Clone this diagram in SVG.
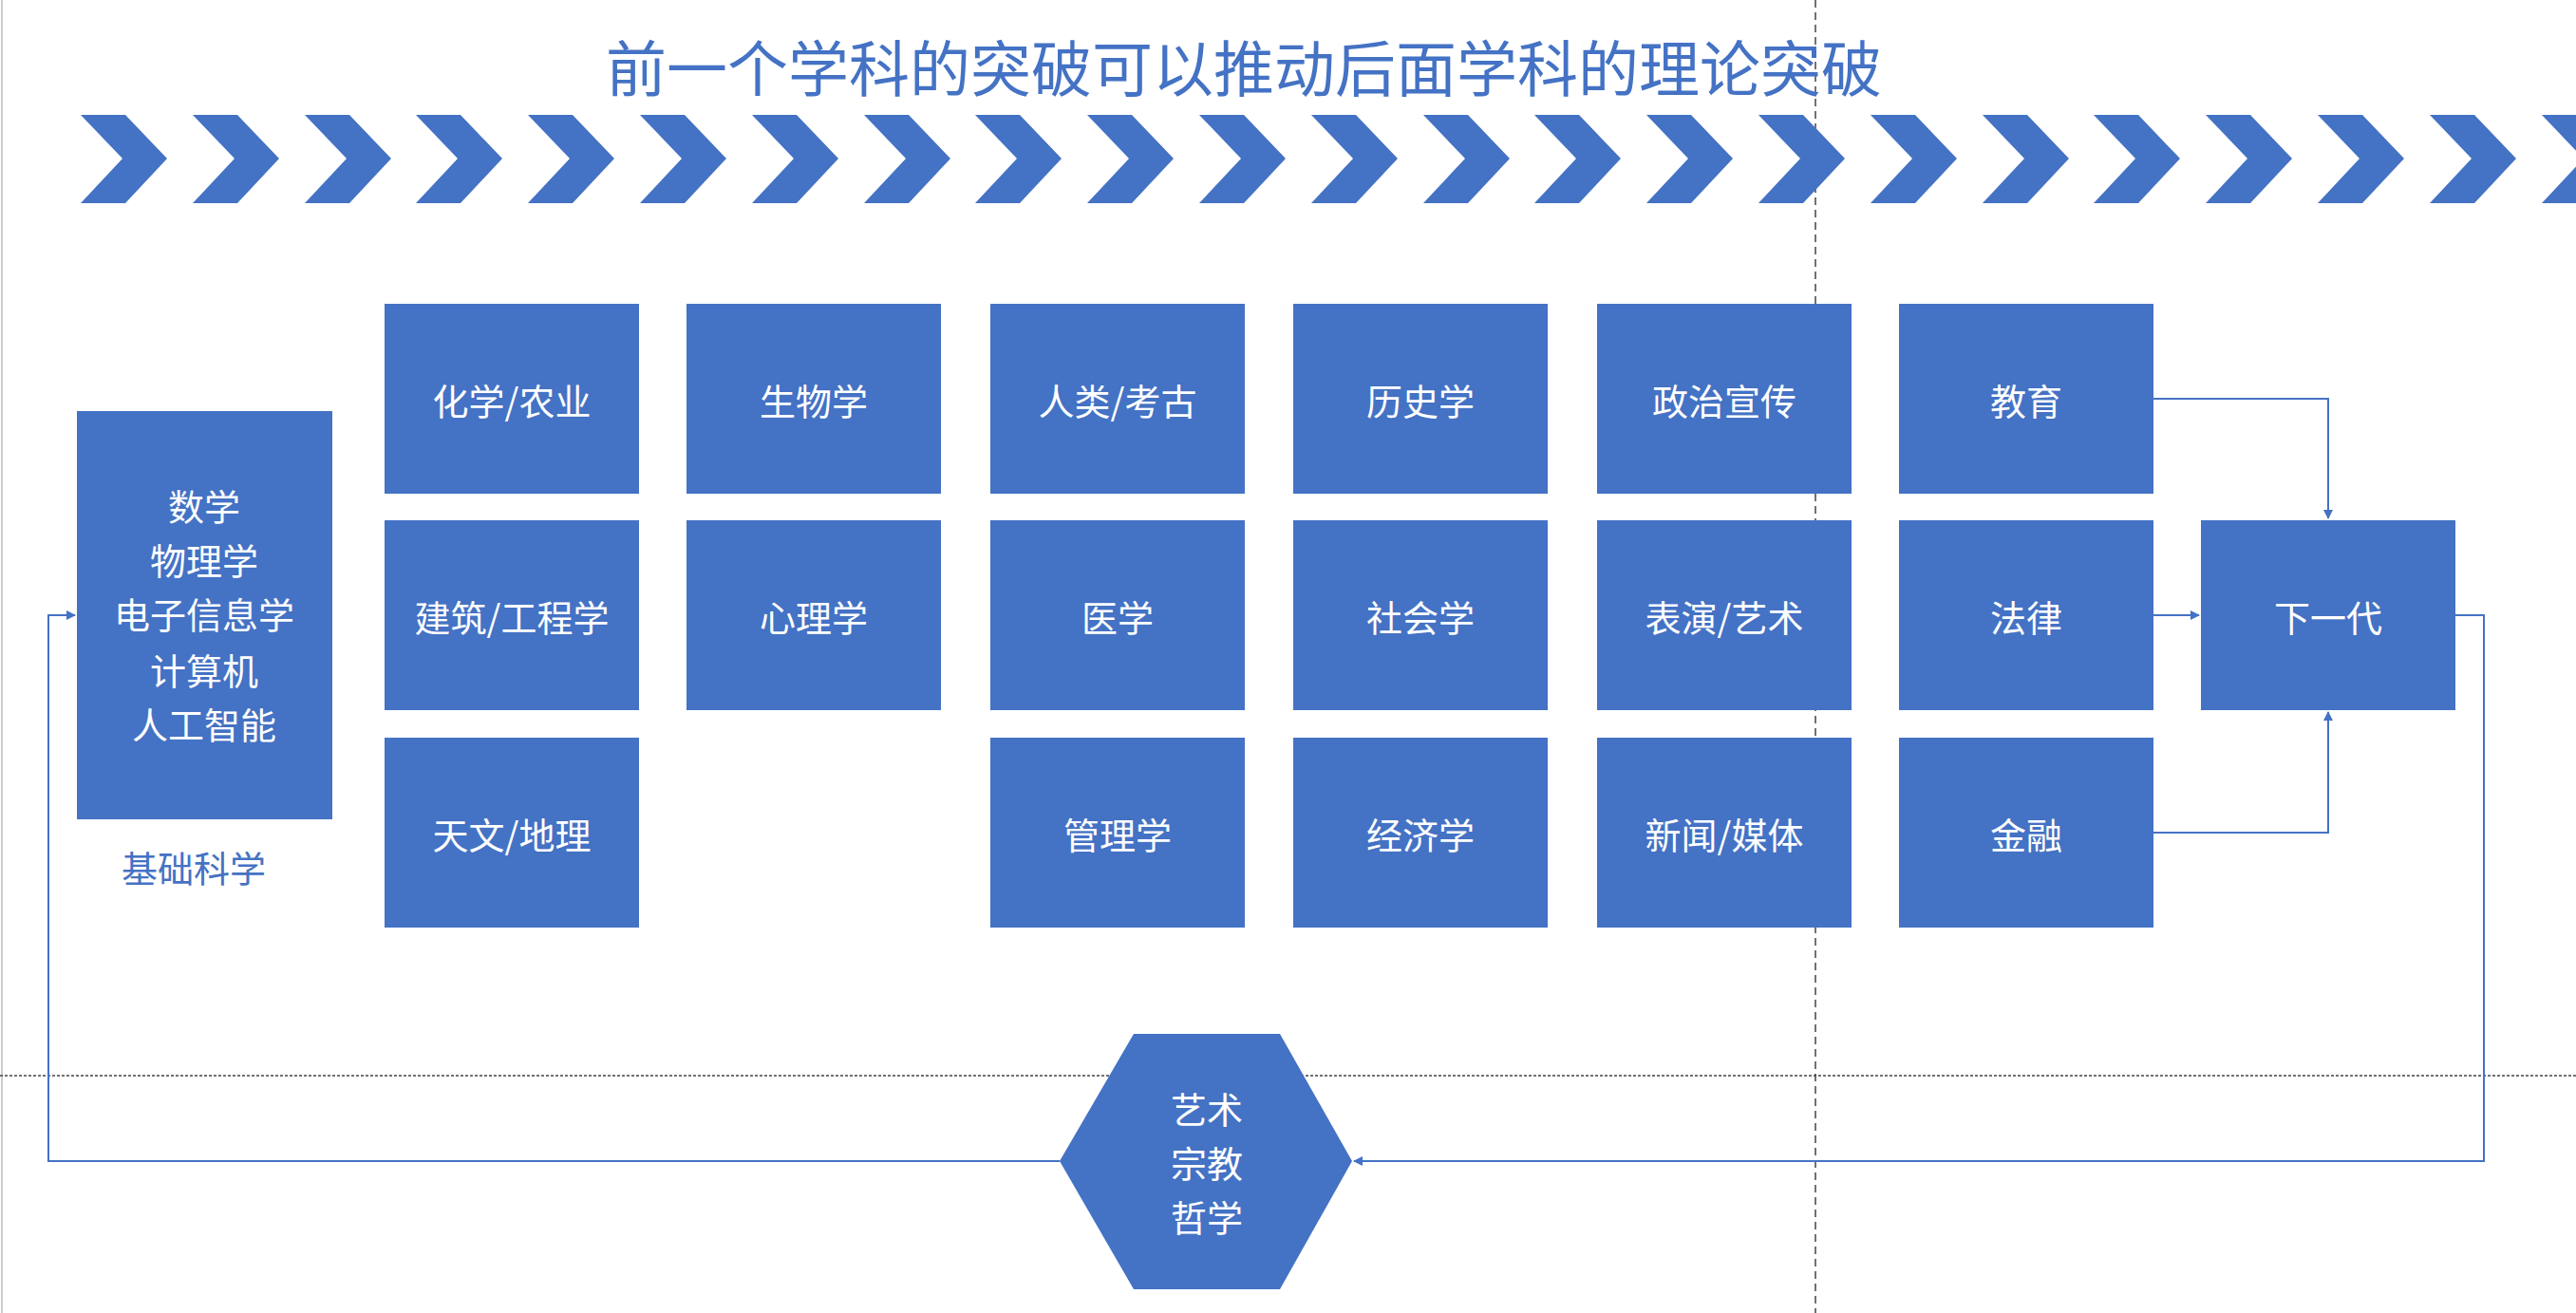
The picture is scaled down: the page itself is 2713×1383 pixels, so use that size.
<svg xmlns="http://www.w3.org/2000/svg" width="2713" height="1383" viewBox="0 0 2713 1383">
<style>
.b{fill:#4472C4}
.t{fill:#fff;font-family:"Noto Sans CJK SC","Liberation Sans",sans-serif;font-size:38px;text-anchor:middle;dominant-baseline:central}
.c{fill:none;stroke:#4472C4;stroke-width:2}
.g{stroke:#444;stroke-width:1.5;fill:none}
</style>
<defs>
<marker id="a" markerWidth="10" markerHeight="10" refX="9" refY="5" orient="auto" markerUnits="userSpaceOnUse"><path d="M0,0 L10,5 L0,10 z" fill="#4472C4"/></marker>
<polygon id="ch" points="0,121 47,121 91,167 47,214 0,214 44,167" class="b"/>
</defs>
<rect width="2713" height="1383" fill="#fff"/>
<line x1="2" y1="0" x2="2" y2="1383" stroke="#ccc" stroke-width="2"/>
<line x1="1912" y1="0" x2="1912" y2="1383" class="g" stroke-dasharray="8,5"/>
<line x1="0" y1="1133" x2="2713" y2="1133" class="g" stroke-dasharray="3,2"/>
<text x="1310" y="68" font-family="Noto Sans CJK SC,sans-serif" font-size="64" fill="#4472C4" text-anchor="middle" dominant-baseline="central">前一个学科的突破可以推动后面学科的理论突破</text>
<g id="chevrons">
<use href="#ch" x="85"/><use href="#ch" x="203"/><use href="#ch" x="321"/><use href="#ch" x="438"/><use href="#ch" x="556"/><use href="#ch" x="674"/><use href="#ch" x="792"/><use href="#ch" x="910"/><use href="#ch" x="1027"/><use href="#ch" x="1145"/><use href="#ch" x="1263"/><use href="#ch" x="1381"/><use href="#ch" x="1499"/><use href="#ch" x="1616"/><use href="#ch" x="1734"/><use href="#ch" x="1852"/><use href="#ch" x="1970"/><use href="#ch" x="2088"/><use href="#ch" x="2205"/><use href="#ch" x="2323"/><use href="#ch" x="2441"/><use href="#ch" x="2559"/><use href="#ch" x="2677"/>
</g>
<g id="connectors">
<polyline class="c" points="2268,420 2452,420 2452,546" marker-end="url(#a)"/>
<polyline class="c" points="2268,648 2316,648" marker-end="url(#a)"/>
<polyline class="c" points="2268,877 2452,877 2452,750" marker-end="url(#a)"/>
<polyline class="c" points="2586,648 2616,648 2616,1223 1426,1223" marker-end="url(#a)"/>
<polyline class="c" points="1116,1223 51,1223 51,648 79,648" marker-end="url(#a)"/>
</g>
<g id="base"><rect class="b" x="81" y="433" width="269" height="430"/>
<text class="t" x="215" y="531">数学</text><text class="t" x="215" y="588">物理学</text><text class="t" x="215" y="645">电子信息学</text><text class="t" x="215" y="704">计算机</text><text class="t" x="215" y="761">人工智能</text></g>
<text x="204" y="912" font-family="Noto Sans CJK SC,sans-serif" font-size="38" fill="#4472C4" text-anchor="middle" dominant-baseline="central">基础科学</text>
<g id="n1"><rect class="b" x="405" y="320" width="268" height="200"/><text class="t" x="539" y="420">化学/农业</text></g>
<g id="n2"><rect class="b" x="405" y="548" width="268" height="200"/><text class="t" x="539" y="648">建筑/工程学</text></g>
<g id="n3"><rect class="b" x="405" y="777" width="268" height="200"/><text class="t" x="539" y="877">天文/地理</text></g>
<g id="n4"><rect class="b" x="723" y="320" width="268" height="200"/><text class="t" x="857" y="420">生物学</text></g>
<g id="n5"><rect class="b" x="723" y="548" width="268" height="200"/><text class="t" x="857" y="648">心理学</text></g>
<g id="n6"><rect class="b" x="1043" y="320" width="268" height="200"/><text class="t" x="1177" y="420">人类/考古</text></g>
<g id="n7"><rect class="b" x="1043" y="548" width="268" height="200"/><text class="t" x="1177" y="648">医学</text></g>
<g id="n8"><rect class="b" x="1043" y="777" width="268" height="200"/><text class="t" x="1177" y="877">管理学</text></g>
<g id="n9"><rect class="b" x="1362" y="320" width="268" height="200"/><text class="t" x="1496" y="420">历史学</text></g>
<g id="n10"><rect class="b" x="1362" y="548" width="268" height="200"/><text class="t" x="1496" y="648">社会学</text></g>
<g id="n11"><rect class="b" x="1362" y="777" width="268" height="200"/><text class="t" x="1496" y="877">经济学</text></g>
<g id="n12"><rect class="b" x="1682" y="320" width="268" height="200"/><text class="t" x="1816" y="420">政治宣传</text></g>
<g id="n13"><rect class="b" x="1682" y="548" width="268" height="200"/><text class="t" x="1816" y="648">表演/艺术</text></g>
<g id="n14"><rect class="b" x="1682" y="777" width="268" height="200"/><text class="t" x="1816" y="877">新闻/媒体</text></g>
<g id="n15"><rect class="b" x="2000" y="320" width="268" height="200"/><text class="t" x="2134" y="420">教育</text></g>
<g id="n16"><rect class="b" x="2000" y="548" width="268" height="200"/><text class="t" x="2134" y="648">法律</text></g>
<g id="n17"><rect class="b" x="2000" y="777" width="268" height="200"/><text class="t" x="2134" y="877">金融</text></g>
<g id="n18"><rect class="b" x="2318" y="548" width="268" height="200"/><text class="t" x="2452" y="648">下一代</text></g>
<g id="hex"><polygon class="b" points="1194,1089 1348,1089 1424,1223 1348,1358 1194,1358 1116,1223"/>
<text class="t" x="1271" y="1166">艺术</text><text class="t" x="1271" y="1223">宗教</text><text class="t" x="1271" y="1280">哲学</text></g>
</svg>
